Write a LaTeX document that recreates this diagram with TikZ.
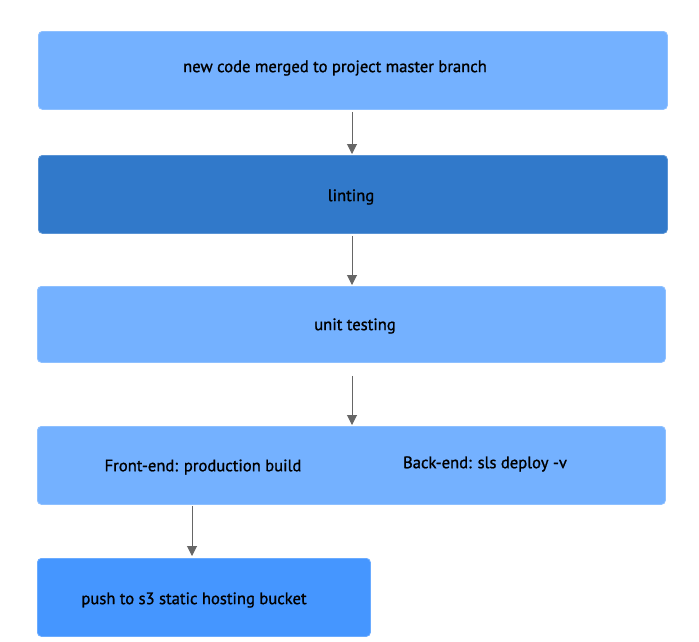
\documentclass[tikz,border=0pt]{standalone}
\usepackage{fontspec}
\setmainfont{PT Sans}
\newfontfamily\lblfont{PT Sans}[FakeBold=1.1]
\usetikzlibrary{arrows.meta}
\definecolor{lightbox}{HTML}{74B1FF}
\definecolor{darkbox}{HTML}{3179CA}
\definecolor{midbox}{HTML}{4596FF}
\definecolor{boxedge}{HTML}{8EC0FF}
\definecolor{arrgray}{HTML}{666666}
\tikzset{
  stepbox/.style={rectangle, rounded corners=4pt, draw=boxedge, line width=0.8pt, inner sep=0pt, anchor=north west},
  lbl/.style={font=\lblfont\fontsize{16.6}{18}\selectfont, text=black},
  arr/.style={draw=arrgray, line width=1pt, -{Triangle[length=10pt,width=10pt]}}
}
\begin{document}
\begin{tikzpicture}[x=1pt,y=-1pt]
\useasboundingbox (0,0) rectangle (699,641);
\node[stepbox, fill=lightbox, minimum width=629pt, minimum height=78pt] (b1) at (38,31) {};
\node[lbl] (t1) at (335,68) {new code merged to project master branch};
\node[stepbox, fill=darkbox, draw=darkbox!80!white, minimum width=629pt, minimum height=78pt] (b2) at (38,155) {};
\node[lbl] (t2) at (351,197) {linting};
\node[stepbox, fill=lightbox, minimum width=628pt, minimum height=76pt] (b3) at (37,286) {};
\node[lbl] (t3) at (355,326) {unit testing};
\node[stepbox, fill=lightbox, minimum width=628pt, minimum height=78pt] (b4) at (37,426) {};
\node[lbl] (t4a) at (203,467) {Front-end: production build};
\node[lbl] (t4b) at (485,464) {Back-end: sls deploy -v};
\node[stepbox, fill=midbox, draw=midbox!80!white, minimum width=333pt, minimum height=78pt] (b5) at (37,558) {};
\node[lbl] (t5) at (194,600) {push to s3 static hosting bucket};
\coordinate (c1) at (352,0);
\coordinate (c4) at (192,0);
\draw[arr, shorten <=2pt, shorten >=1pt] (b1.south -| c1) -- (b2.north -| c1);
\draw[arr, shorten <=2pt, shorten >=1pt] (b2.south -| c1) -- (b3.north -| c1);
\draw[arr, shorten <=13pt, shorten >=1pt] (b3.south -| c1) -- (b4.north -| c1);
\draw[arr, shorten <=1pt, shorten >=2pt] (b4.south -| c4) -- (b5.north -| c4);
\end{tikzpicture}
\end{document}
